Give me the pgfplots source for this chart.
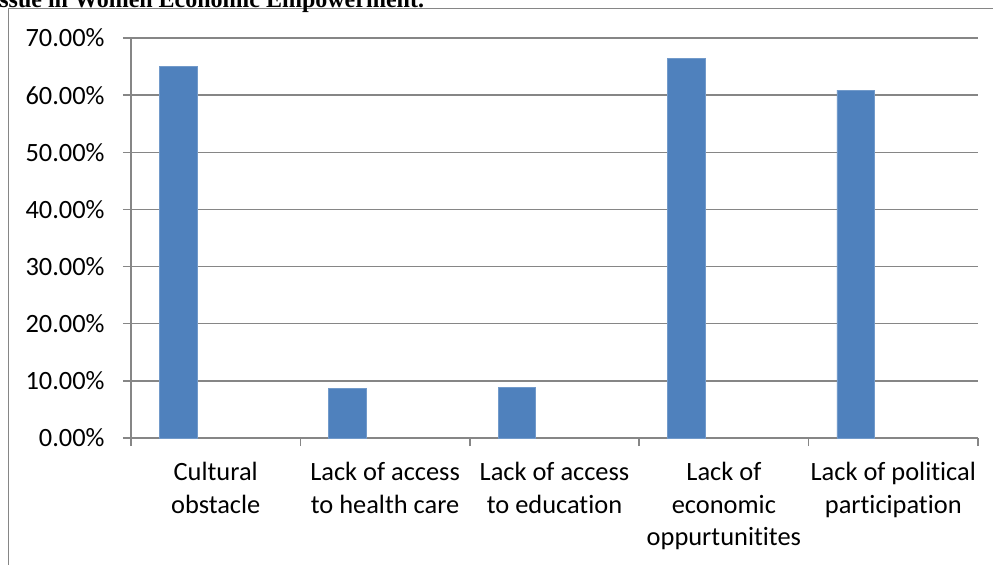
\documentclass[border=0pt]{standalone}
\usepackage{pgfplots}
\pgfplotsset{compat=1.18}
\usepackage{fontspec}
\setmainfont{Carlito}[Ligatures=NoCommon]
\newfontfamily\titlefont{Liberation Serif}
\definecolor{barblue}{HTML}{4F81BD}
\definecolor{axgray}{HTML}{868686}
\begin{document}
\begin{tikzpicture}
\useasboundingbox (0pt,0pt) rectangle (496.5pt,282pt);
% outer chart border (left and top visible)
\draw[axgray, line width=0.75pt] (4.15pt,-5pt) -- (4.15pt,277.65pt) -- (505pt,277.65pt);
% cut-off title
\node[anchor=base west, inner sep=0pt, font=\titlefont\bfseries\fontsize{12}{14}\selectfont] at (-0.5pt,278.5pt) {ssue in Women Economic Empowerment.};
\begin{axis}[
  at={(65.5pt,63pt)}, anchor=south west,
  scale only axis, width=423.5pt, height=200pt,
  xmin=-0.5, xmax=4.5, ymin=0, ymax=70,
  axis x line=bottom, axis y line=left,
  axis line style={-, axgray, line width=0.75pt},
  ybar, bar width=0.222, bar shift=0pt,
  xtick={0,1,2,3,4},
  xticklabels={Cultural\\obstacle, Lack of access\\to health care, Lack of access\\to education, Lack of\\economic\\oppurtunitites, Lack of political\\participation},
  minor xtick={-0.5,0.5,1.5,2.5,3.5,4.5},
  major x tick style={draw=none},
  minor x tick style={axgray, line width=0.75pt},
  minor tick length=4pt,
  ytick={0,10,20,30,40,50,60,70},
  yticklabels={0.00\%,10.00\%,20.00\%,30.00\%,40.00\%,50.00\%,60.00\%,70.00\%},
  major y tick style={axgray, line width=0.75pt},
  major tick length=4pt,
  tick align=outside,
  tick pos=left,
  ymajorgrids, grid style={axgray, line width=0.75pt},
  ticklabel style={font=\fontsize{13.2}{16.25}\selectfont},
  yticklabel style={anchor=east, inner sep=0pt, xshift=-9pt},
  xticklabel style={align=center, anchor=north, inner sep=0pt, yshift=-8pt},
  clip=false,
]
\addplot[fill=barblue, draw=barblue!80!white, line width=0.3pt] coordinates {
  (-0.222,65.1) (0.778,8.7) (1.778,8.8) (2.778,66.5) (3.778,60.9)
};
\end{axis}
\end{tikzpicture}
\end{document}
